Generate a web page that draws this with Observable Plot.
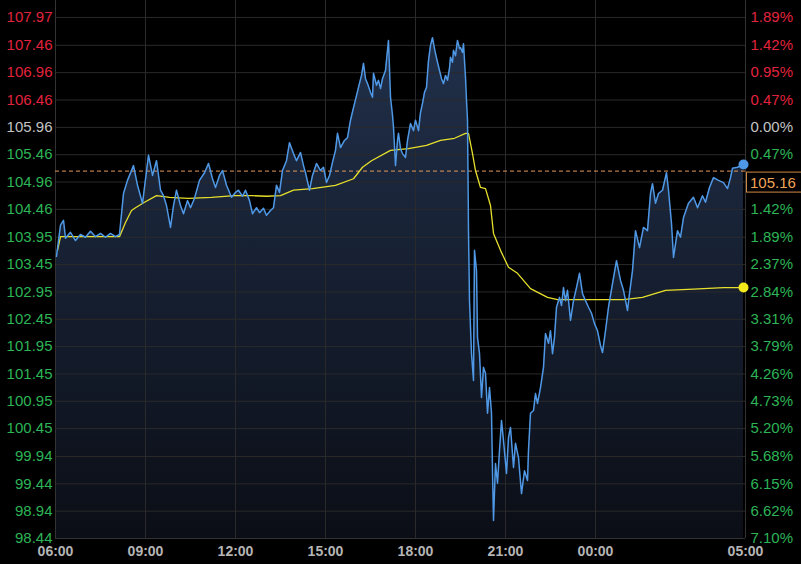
<!DOCTYPE html>
<html><head><meta charset="utf-8">
<script src="https://cdn.jsdelivr.net/npm/d3@7"></script>
<script src="https://cdn.jsdelivr.net/npm/@observablehq/plot@0.6"></script>
<style>
html,body{margin:0;padding:0;background:#000;}
#chart{width:801px;height:564px;overflow:hidden;}
</style></head><body><div id="chart"></div>
<script>
// ---- data ----
const blueTimes = ["06:02","06:10","06:16","06:20","06:30","06:40","06:50","07:00","07:10","07:20","07:30","07:40","07:50","08:00","08:08","08:16","08:24","08:36","08:44","08:54","09:06","09:14","09:22","09:30","09:36","09:42","09:50","09:56","10:02","10:10","10:16","10:24","10:30","10:38","10:48","10:58","11:06","11:14","11:20","11:28","11:34","11:42","11:52","12:00","12:06","12:14","12:20","12:28","12:34","12:42","12:48","12:56","13:02","13:10","13:16","13:22","13:28","13:34","13:42","13:48","13:56","14:02","14:10","14:16","14:20","14:28","14:34","14:42","14:50","14:56","15:02","15:08","15:14","15:20","15:24","15:30","15:38","15:44","15:50","15:56","16:02","16:06","16:12","16:16","16:20","16:24","16:30","16:34","16:36","16:42","16:46","16:50","16:54","17:00","17:04","17:06","17:10","17:14","17:16","17:20","17:24","17:26","17:30","17:34","17:40","17:44","17:50","17:56","18:00","18:06","18:10","18:14","18:18","18:22","18:26","18:30","18:34","18:38","18:40","18:44","18:48","18:52","18:56","19:00","19:04","19:08","19:10","19:14","19:16","19:20","19:24","19:28","19:30","19:34","19:36","19:40","19:42","19:44","19:46","19:48","19:52","19:56","19:58","20:02","20:04","20:08","20:12","20:16","20:20","20:24","20:28","20:32","20:34","20:36","20:40","20:44","20:48","20:52","20:56","21:02","21:06","21:10","21:16","21:20","21:26","21:32","21:38","21:44","21:46","21:50","21:56","22:00","22:04","22:10","22:16","22:20","22:26","22:30","22:34","22:38","22:42","22:48","22:52","22:56","23:00","23:04","23:10","23:16","23:22","23:28","23:34","23:40","23:46","23:52","23:58","00:04","00:10","00:14","00:20","00:26","00:34","00:42","00:50","00:56","01:04","01:08","01:14","01:20","01:28","01:36","01:44","01:50","01:54","02:00","02:06","02:14","02:22","02:26","02:32","02:36","02:44","02:50","02:56","03:06","03:16","03:24","03:34","03:40","03:48","03:56","04:06","04:16","04:24","04:30","04:34","04:44","04:56"];
const bluePrices = [103.60,104.17,104.26,103.93,104.04,103.89,104.00,103.95,104.06,103.96,104.02,103.95,104.02,103.96,104.00,104.75,104.99,105.26,104.90,104.57,105.45,105.08,105.35,104.81,104.71,104.53,104.13,104.53,104.81,104.53,104.38,104.62,104.49,104.66,104.99,105.13,105.30,105.02,104.86,105.08,105.17,104.90,104.68,104.77,104.81,104.70,104.81,104.62,104.38,104.49,104.40,104.48,104.35,104.44,104.49,104.90,104.77,105.17,105.35,105.68,105.48,105.35,105.50,105.26,105.13,104.81,105.08,105.30,105.17,105.23,104.95,105.08,105.32,105.54,105.85,105.59,105.72,105.77,106.09,106.32,106.54,106.69,106.91,107.13,106.85,106.76,106.60,106.51,106.95,106.73,106.82,106.67,106.85,107.00,107.37,107.55,106.51,106.18,105.96,105.26,105.72,105.85,105.57,105.48,105.41,105.72,106.03,105.90,106.09,105.90,106.23,106.40,106.60,106.69,107.18,107.46,107.60,107.40,107.31,107.15,107.00,106.85,106.76,106.91,106.82,107.04,107.24,107.15,107.37,107.27,107.55,107.40,107.42,107.33,107.49,106.87,106.45,106.09,104.07,102.79,101.82,101.33,103.71,103.34,102.12,101.82,101.02,101.57,101.46,100.73,101.20,100.73,99.68,98.77,99.81,99.45,100.05,100.60,100.23,99.63,100.29,100.47,99.74,100.18,99.92,99.26,99.68,99.50,100.05,100.73,100.78,101.09,100.91,101.20,101.57,102.19,102.01,102.24,101.82,102.12,102.67,102.85,102.70,103.03,102.79,102.98,102.43,102.79,103.03,103.29,102.92,102.79,102.67,102.56,102.37,102.24,101.97,101.84,102.24,102.67,103.10,103.52,103.16,102.98,102.61,102.92,103.34,104.07,103.76,104.13,104.07,104.75,104.93,104.57,104.75,104.81,105.13,104.81,104.20,103.58,104.07,103.95,104.31,104.57,104.68,104.49,104.71,104.59,104.86,105.04,104.99,104.95,104.84,105.04,105.21,105.23,105.28];

const avgTimes = ["06:04","06:10","08:08","08:20","08:32","08:40","08:58","09:22","09:48","10:26","11:12","11:58","12:34","13:02","13:30","13:56","14:34","15:20","15:56","16:14","16:32","17:10","17:46","18:22","18:50","19:18","19:40","19:46","19:54","20:00","20:10","20:20","20:30","20:36","20:50","21:06","21:24","21:50","22:24","22:44","23:52","00:56","01:34","02:20","03:16","04:16","04:56"];
const avgPrices = [103.71,103.96,103.96,104.22,104.44,104.49,104.59,104.71,104.68,104.66,104.68,104.71,104.71,104.70,104.71,104.81,104.84,104.90,105.02,105.23,105.35,105.54,105.57,105.63,105.72,105.76,105.85,105.85,105.48,105.17,104.86,104.84,104.53,104.02,103.71,103.40,103.29,103.01,102.85,102.81,102.81,102.81,102.85,102.98,103.00,103.03,103.03];

const priceTicks = [107.97,107.46,106.96,106.46,105.96,105.46,104.96,104.46,103.95,103.45,102.95,102.45,101.95,101.45,100.95,100.45,99.94,99.44,98.94,98.44];
const pctLabels = ["1.89%","1.42%","0.95%","0.47%","0.00%","0.47%","0.95%","1.42%","1.89%","2.37%","2.84%","3.31%","3.79%","4.26%","4.73%","5.20%","5.68%","6.15%","6.62%","7.10%"];
const timeTicks = ["06:00","09:00","12:00","15:00","18:00","21:00","00:00","05:00"];
const prevClose = 105.96;
const lastPrice = 105.16;
const yDomain = [98.44, 108.28];

// ---- build ----
const hrs = s => { const [h, m] = s.split(":").map(Number); let t = h - 6 + m / 60; if (t < 0) t += 24; return t; };
const blue = blueTimes.map((t, i) => ({x: hrs(t), y: bluePrices[i]}));
const avg = avgTimes.map((t, i) => ({x: hrs(t), y: avgPrices[i]}));
const RED = "#e2233d", GREEN = "#2db456", GRAY = "#c4c4c4";
const tickColor = v => Math.abs(v - prevClose) < 0.005 ? GRAY : (v > prevClose ? RED : GREEN);
// right-hand percent labels; the one hidden behind the last-price tag is not shown
const pctRows = priceTicks.map((v, i) => ({v, label: pctLabels[i]}))
  .filter(d => !(d.v < lastPrice && lastPrice - d.v < 0.4));

const plot = Plot.plot({
  width: 801, height: 564,
  marginLeft: 55, marginRight: 56, marginTop: 0, marginBottom: 26,
  style: {background: "#000", fontFamily: "'Liberation Sans', Arial, sans-serif", fontSize: "15px", overflow: "visible"},
  x: {domain: [0, 23], axis: null},
  y: {domain: yDomain, axis: null},
  color: {type: "identity"},
  marks: [
    Plot.areaY(blue, {x: "x", y1: yDomain[0], y2: "y", fill: "url(#areaGrad)"}),
    Plot.ruleY(priceTicks, {stroke: "#2a2a2a", strokeWidth: 1}),
    Plot.ruleX(timeTicks.slice(1, -1).map(hrs), {stroke: "#2a2a2a"}),
    Plot.ruleX([0, 23], {stroke: "#333"}),
    Plot.ruleY([yDomain[0]], {stroke: "#333"}),
    Plot.ruleY([lastPrice], {stroke: "#e39a5c", strokeDasharray: "4,3"}),
    Plot.line(avg, {x: "x", y: "y", stroke: "#e6df2c", strokeWidth: 1.3}),
    Plot.line(blue, {x: "x", y: "y", stroke: "#4f98e6", strokeWidth: 1.5}),
    Plot.dot([blue[blue.length - 1]], {x: "x", y: "y", r: 5, fill: "#4f98e6"}),
    Plot.dot([avg[avg.length - 1]], {x: "x", y: "y", r: 5, fill: "#f2ea1a"}),
    Plot.text(priceTicks, {y: d => d, text: d => d.toFixed(2), frameAnchor: "left", textAnchor: "end", dx: -3, fill: d => tickColor(d)}),
    Plot.text(pctRows, {y: "v", text: "label", frameAnchor: "right", textAnchor: "start", dx: 5, fill: d => tickColor(d.v)}),
    Plot.text(timeTicks, {x: d => hrs(d), text: d => d, frameAnchor: "bottom", dy: 17, fontSize: 14, fill: "#b5b5b5", fontWeight: "bold"})
  ]
});

const ns = "http://www.w3.org/2000/svg";
const ys = plot.scale("y");
const bottomY = ys.apply(yDomain[0]);
const defs = document.createElementNS(ns, "defs");
defs.innerHTML = `<linearGradient id="areaGrad" gradientUnits="userSpaceOnUse" x1="0" y1="0" x2="0" y2="${bottomY}"><stop offset="0" stop-color="#22324e"/><stop offset="1" stop-color="#0b0e16"/></linearGradient>`;
plot.insertBefore(defs, plot.firstChild);

// last price tag
const ly = ys.apply(lastPrice);
const g = document.createElementNS(ns, "g");
const rect = document.createElementNS(ns, "rect");
rect.setAttribute("x", 746.5); rect.setAttribute("y", ly + 1.5);
rect.setAttribute("width", 60); rect.setAttribute("height", 20);
rect.setAttribute("fill", "#000"); rect.setAttribute("stroke", "#cf8a45");
const txt = document.createElementNS(ns, "text");
txt.setAttribute("x", 750); txt.setAttribute("y", ly + 12);
txt.setAttribute("dy", "0.35em");
txt.setAttribute("text-anchor", "start");
txt.setAttribute("fill", "#f0a458");
txt.setAttribute("font-size", "15");
txt.textContent = lastPrice.toFixed(2);
g.appendChild(rect); g.appendChild(txt);
plot.appendChild(g);

document.getElementById("chart").appendChild(plot);
</script>
</body></html>
